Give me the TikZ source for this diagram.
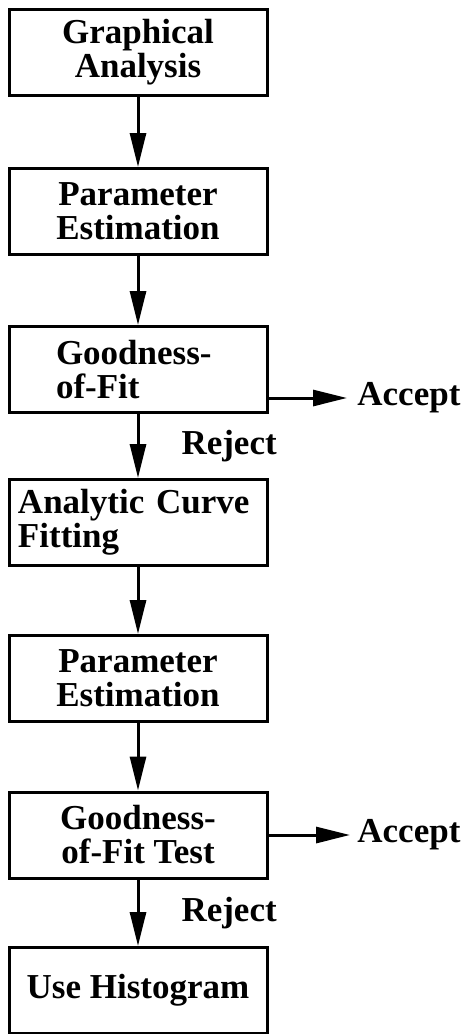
\documentclass[tikz,border=0pt]{standalone}
\usepackage{fontspec}
\setmainfont{Liberation Serif}
\usetikzlibrary{arrows.meta}
\newcommand{\stagewd}{129pt}
\newcommand{\stageht}{43pt}
\newcommand{\midx}{138}
\newcommand{\chartfont}{\bfseries\fontsize{17.5}{17}\selectfont}
\tikzset{
  stage/.style={draw, line width=1.5pt, minimum width=\stagewd,
    minimum height=\stageht, inner sep=0pt, align=center, font=\chartfont},
  flow/.style={line width=1.5pt, -{Triangle[length=17pt,width=8pt]}},
  answer/.style={inner sep=2pt, font=\chartfont}
}

\begin{document}
\begin{tikzpicture}[x=0.5pt, y=-0.5pt]
    \useasboundingbox (0,0) rectangle (467,1034);

    % stages
    \node (graph) at (\midx,52) [stage] {Graphical\\Analysis};
    \node (param1) at (\midx,211.5) [stage] {Parameter\\Estimation};
    \node (fit1) at (\midx,369.5) [stage, align=left, text width=82pt]
      {Goodness-\\of-Fit};
    \node (curve) at (\midx,522.5) [stage, align=left, text width=120pt]
      {Analytic Curve\\Fitting};
    \node (param2) at (\midx,678.5) [stage] {Parameter\\Estimation};
    \node (fit2) at (\midx,835) [stage] {Goodness-\\of-Fit Test};
    \node (hist) at (\midx,990.5) [stage] {Use Histogram};

    % outcomes
    \node (acc1) at (347,398) [answer, anchor=west, inner xsep=5pt] {Accept};
    \node (acc2) at (350,835) [answer, anchor=west, inner xsep=3.5pt] {Accept};

    % connectors
    \draw[flow] (graph) -- (param1);
    \draw[flow] (param1) -- (fit1);
    \draw[flow] (fit1) -- node[answer, right=19pt] (rej1) {Reject} (curve);
    \draw[flow] ([yshift=-14.25pt]fit1.east) -- (acc1);
    \draw[flow] (curve) -- (param2);
    \draw[flow] (param2) -- (fit2);
    \draw[flow] (fit2) -- node[answer, right=19pt] (rej2) {Reject} (hist);
    \draw[flow] (fit2) -- (acc2);
\end{tikzpicture}
\end{document}
